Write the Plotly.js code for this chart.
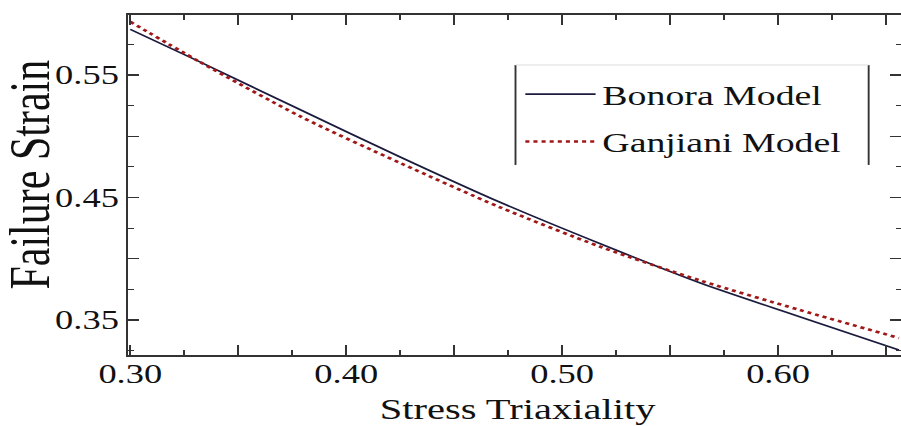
<!DOCTYPE html>
<html>
<head>
<meta charset="utf-8">
<script src="https://cdn.plot.ly/plotly-3.0.1.min.js"></script>
<style>
html,body{margin:0;padding:0;background:#fff;overflow:hidden;}
#wrap{width:901px;height:426px;overflow:hidden;position:relative;}
#chart{width:667px;height:426px;transform:scaleX(1.351);transform-origin:0 0;}
</style>
</head>
<body>
<div id="wrap"><div id="chart"></div></div>
<script>
// Data
const triaxiality = [0.300, 0.332, 0.379, 0.425, 0.471, 0.518, 0.564, 0.610, 0.656];
const bonoraStrain = [0.5873, 0.5609, 0.5214, 0.4831, 0.4463, 0.4120, 0.3802, 0.3527, 0.3255];
const ganjianiStrain = [0.5935, 0.5609, 0.5160, 0.4782, 0.4422, 0.4096, 0.3822, 0.3582, 0.3353];
const seriesNames = ['Bonora Model', 'Ganjiani Model'];
const xTickVals = [0.30, 0.35, 0.40, 0.45, 0.50, 0.55, 0.60, 0.65];
const xTickText = ['0.30', '', '0.40', '', '0.50', '', '0.60', ''];
const yTickVals = [0.35, 0.40, 0.45, 0.50, 0.55];
const yTickText = ['0.35', '', '0.45', '', '0.55'];
const xTitle = 'Stress Triaxiality';
const yTitle = 'Failure Strain';

const serif = 'Liberation Serif, Times New Roman, serif';

const traces = [
  {x: triaxiality, y: bonoraStrain, name: seriesNames[0], type: 'scatter', mode: 'lines',
   line: {color: '#1b1b3e', width: 1.6, shape: 'spline', smoothing: 0.8}, legendgroup: 'a'},
  {x: triaxiality, y: ganjianiStrain, name: seriesNames[1], type: 'scatter', mode: 'lines',
   line: {color: '#a01818', width: 2.6, dash: 'dot', shape: 'spline', smoothing: 0.8}, legendgroup: 'b'}
];

const axisCommon = {
  showgrid: false, zeroline: false, showline: true, linecolor: '#333', linewidth: 1.6,
  mirror: 'ticks', ticks: 'inside', tickcolor: '#333', tickwidth: 1.4,
  tickfont: {family: serif, size: 27, color: '#111'}
};

const layout = {
  width: 667, height: 426,
  margin: {l: 95, r: 0, t: 15, b: 71},
  paper_bgcolor: '#fff', plot_bgcolor: '#fff',
  showlegend: true,
  legend: {x: 0.505, y: 0.84, xanchor: 'left', yanchor: 'top', bgcolor: 'rgba(0,0,0,0)',
           borderwidth: 0, itemwidth: 52, tracegroupgap: 8,
           font: {family: serif, size: 28, color: '#111'}},
  xaxis: Object.assign({}, axisCommon, {
    range: [0.2991, 0.657], tickmode: 'array', tickvals: xTickVals, ticktext: xTickText,
    ticklen: 10, ticklabelstandoff: -6,
    minor: {dtick: 0.025, tick0: 0.3, ticklen: 5, ticks: 'inside', tickcolor: '#333', tickwidth: 1.2}
  }),
  yaxis: Object.assign({}, axisCommon, {
    range: [0.3214, 0.599], tickmode: 'array', tickvals: yTickVals, ticktext: yTickText,
    ticklen: 8, ticklabelstandoff: 0,
    minor: {dtick: 0.025, tick0: 0.35, ticklen: 4, ticks: 'inside', tickcolor: '#333', tickwidth: 1.2}
  }),
  shapes: [
    {type: 'line', xref: 'paper', yref: 'paper', x0: 0.501, x1: 0.501, y0: 0.853, y1: 0.559, line: {color: '#333', width: 1.4}},
    {type: 'line', xref: 'paper', yref: 'paper', x0: 0.958, x1: 0.958, y0: 0.853, y1: 0.559, line: {color: '#333', width: 1.4}},
    {type: 'line', xref: 'paper', yref: 'paper', x0: 0.501, x1: 0.958, y0: 0.853, y1: 0.853, line: {color: '#ddd', width: 1}}
  ],
  annotations: [
    {text: xTitle, xref: 'paper', yref: 'paper', x: 0.503, y: -0.156, xanchor: 'center', yanchor: 'middle',
     showarrow: false, font: {family: serif, size: 30, color: '#111'}},
    {text: yTitle, xref: 'paper', yref: 'paper', x: -0.128, y: 0.53, xanchor: 'center', yanchor: 'middle',
     textangle: -90, showarrow: false, font: {family: serif, size: 42, color: '#111'}}
  ]
};

Plotly.newPlot('chart', traces, layout, {displayModeBar: false, staticPlot: true});
</script>
</body>
</html>
